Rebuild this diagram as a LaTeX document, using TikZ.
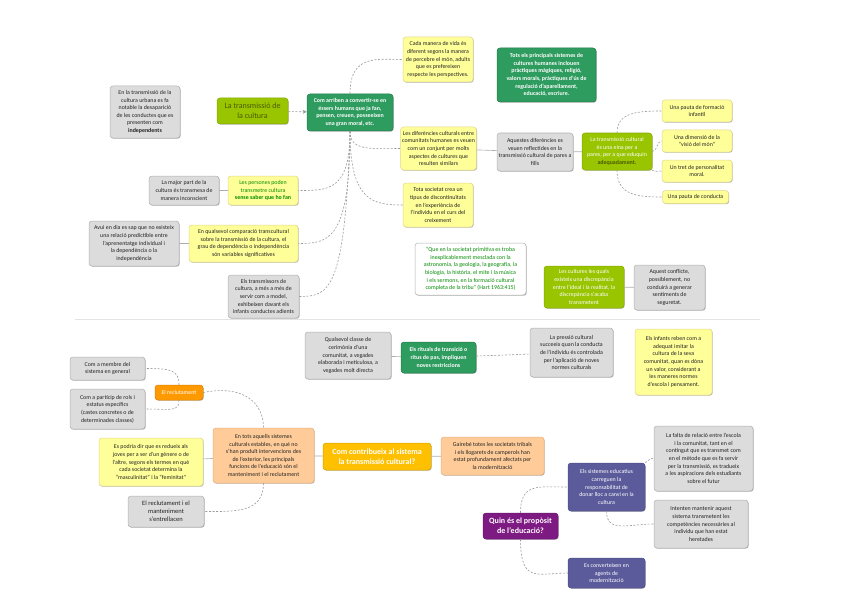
\documentclass[tikz,border=0pt]{standalone}
\usepackage{fontspec}
\setmainfont{Carlito}
\usetikzlibrary{shadows,arrows.meta}
\definecolor{cgray}{HTML}{DCDCDC}
\definecolor{cgrayd}{HTML}{B0B0B0}
\definecolor{cyel}{HTML}{FFFF99}
\definecolor{cyeld}{HTML}{E0D68A}
\definecolor{cgreen}{HTML}{2E9B5F}
\definecolor{clime}{HTML}{99C400}
\definecolor{climed}{HTML}{86AB00}
\definecolor{cpeach}{HTML}{FFCC99}
\definecolor{cpeachd}{HTML}{E8B080}
\definecolor{corange}{HTML}{FF9900}
\definecolor{cgold}{HTML}{FFC000}
\definecolor{cmag}{HTML}{7E1B83}
\definecolor{cpur}{HTML}{5B5B9B}
\definecolor{ctext}{HTML}{222222}
\definecolor{colive}{HTML}{4A5A00}
\definecolor{cgtext}{HTML}{008A00}
\definecolor{cline}{HTML}{999999}
\definecolor{csep}{HTML}{E4E4E4}
\newcommand\mmsmall{\fontsize{5.9}{7.6}\selectfont}
\newcommand\mmbig{\fontsize{8}{10}\selectfont}
\tikzset{
  wh/.style 2 args={minimum width=#1pt, minimum height=#2pt},
  shad/.style={drop shadow={shadow xshift=0.7pt,shadow yshift=-0.7pt,opacity=0.3,fill=black}},
  box/.style={rounded corners=3pt, draw, line width=0.5pt, align=center, inner sep=1.5pt, font=\mmsmall, shad},
  graybox/.style={box, fill=cgray, draw=cgrayd, text=ctext},
  yelbox/.style={box, fill=cyel, draw=cyeld, text=ctext},
  greenbox/.style={box, fill=cgreen, draw=cgreen!80!black, text=white, font=\mmsmall\bfseries},
  limebox/.style={box, fill=clime, draw=climed, text=white},
  peachbox/.style={box, fill=cpeach, draw=cpeachd, text=ctext},
  orangebox/.style={box, fill=corange, draw=corange!85!black, text=white},
  goldbox/.style={box, fill=cgold, draw=cgold!85!black, text=white, font=\mmbig\bfseries},
  magbox/.style={box, fill=cmag, draw=cmag!85!black, text=white, font=\mmbig\bfseries},
  purbox/.style={box, fill=cpur, draw=cpur!85!black, text=white},
  quotebox/.style={box, fill=white, draw=cgrayd, text=cgtext},
  dcon/.style={draw=cline, line width=0.6pt, dash pattern=on 2pt off 1.6pt},
  scon/.style={draw=cline!80, line width=0.6pt},
}
\begin{document}
\begin{tikzpicture}[x=1pt,y=-1pt]
\useasboundingbox (0,0) rectangle (848,599);
\draw[csep, line width=0.8pt] (75,319) -- (760,319);

% ---------- top half ----------
\node[graybox, wh={70}{52}] (g1) at (145,112) {En la transmissió de la\\ cultura urbana es fa\\ notable la desaparició\\ de les conductes que es\\ presenten com\\ \textbf{independents}};
\node[limebox, wh={71}{26}, text=colive, font=\mmbig] (t1) at (252.5,111) {La transmissió de\\ la cultura};
\node[greenbox, wh={86}{37}] (c1) at (350,112.5) {Com arriben a convertir-se en\\ éssers humans que ja fan,\\ pensen, creuen, posseeixen\\ una gran moral, etc.};
\node[yelbox, wh={70}{45}] (y1) at (438,59.5) {Cada manera de vida és\\ diferent segons la manera\\ de percebre el món, adults\\ que es prefereixen\\ respecte les perspectives.};
\node[greenbox, wh={99}{54}] (gb) at (546.5,75) {Tots els principals sistemes de\\ cultures humanes inclouen\\ pràctiques màgiques, religió,\\ valors morals, pràctiques d'ús de\\ regulació d'aparellament,\\ educació, escriure.};
\node[yelbox, wh={71}{43}] (y2) at (438.5,148.5) {Les diferències culturals entre\\ comunitats humanes es veuen\\ com un conjunt per molts\\ aspectes de cultures que\\ resulten similars};
\node[graybox, wh={76}{38}] (g2) at (535,152) {Aquestes diferències es\\ veuen reflectides en la\\ transmissió cultural de pares a\\ fills};
\node[limebox, wh={70}{37}] (l2) at (617,151.5) {La transmissió cultural\\ és una eina per a\\ pares, per a que eduquin\\ \textcolor{colive}{\textbf{adequadament.}}};
\node[yelbox, wh={70}{22}] (y3) at (697,111) {Una pauta de formació\\ infantil};
\node[yelbox, wh={70}{22}] (y4) at (697,141) {Una dimensió de la\\ “visió del món”};
\node[yelbox, wh={70}{22}] (y5) at (697,171) {Un tret de personalitat\\ moral.};
\node[yelbox, wh={66}{13}] (y6) at (695.5,197) {Una pauta de conducta};
\node[graybox, wh={70}{29}] (g3) at (184,190.5) {La major part de la\\ cultura és transmesa de\\ manera inconscient};
\node[yelbox, wh={70}{29}, text=cgtext] (y7) at (263,190.5) {Les persones poden\\ transmetre cultura\\ \textbf{sense saber que ho fan}};
\node[graybox, wh={90}{45}] (g4) at (134,243.5) {Avui en dia es sap que no existeix\\ una relació predictible entre\\ l'aprenentatge individual i\\ la dependència o la\\ independència};
\node[yelbox, wh={109}{37}] (y8) at (243.5,243.5) {En qualsevol comparació transcultural\\ sobre la transmissió de la cultura, el\\ grau de dependència o independència\\ són variables significatives};
\node[graybox, wh={71}{43}] (g5) at (263.5,296.5) {Els transmissors de\\ cultura, a més a més de\\ servir com a model,\\ exhibeixen davant els\\ infants conductes adients};
\node[yelbox, wh={70}{44}] (y9) at (438,205) {Tota societat crea un\\ tipus de discontinuïtats\\ en l'experiència de\\ l'individu en el curs del\\ creixement};
\node[quotebox, wh={111}{52}] (q) at (470.5,269) {“Que en la societat primitiva es troba\\ inexplicablement mesclada con la\\ astronomia, la geologia, la geografia, la\\ biologia, la història, el mite i la música\\ i els sermons, en la formació cultural\\ completa de la tribu” (Hart 1963:415)};
\node[limebox, wh={80}{42}] (l3) at (584,287) {Les cultures les quals\\ existeix una discrepància\\ entre l'ideal i la realitat, la\\ discrepància s'acaba\\ transmetent};
\node[graybox, wh={71}{45}] (g6) at (669.5,287.5) {Aquest conflicte,\\ possiblement, no\\ conduirà a generar\\ sentiments de\\ seguretat.};

% ---------- bottom half ----------
\node[graybox, wh={86}{47}] (g7) at (348,355.5) {Qualsevol classe de\\ cerimònia d'una\\ comunitat, a vegades\\ elaborada i meticulosa, a\\ vegades molt directa};
\node[greenbox, wh={75}{31}] (gr) at (438.5,357.5) {Els rituals de transició o\\ ritus de pas, impliquen\\ noves restriccions};
\node[graybox, wh={83}{49}] (g8) at (571.5,352.5) {La pressió cultural\\ succeeix quan la conducta\\ de l'individu és controlada\\ per l'aplicació de noves\\ normes culturals};
\node[yelbox, wh={77}{66}] (y10) at (673.5,362) {Els infants reben com a\\ adequat imitar la\\ cultura de la seva\\ comunitat, quan es dóna\\ un valor, considerant a\\ les maneres normes\\ d'escola i pensament.};
\node[graybox, wh={75}{23}] (g9) at (107.5,368.5) {Com a membre del\\ sistema en general};
\node[orangebox, wh={48}{15}] (o1) at (179,392.5) {El reclutament};
\node[graybox, wh={75}{40}] (g10) at (107.5,409) {Com a partícip de rols i\\ estatus específics\\ (castes concretes o de\\ determinades classes)};
\node[yelbox, wh={104}{48}] (y11) at (151,462) {Es podria dir que es redueix als\\ joves per a ser d'un gènere o de\\ l'altre, segons els termes en què\\ cada societat determina la\\ “masculinitat” i la “feminitat”};
\node[peachbox, wh={101}{55}] (p1) at (263.5,455.5) {En tots aquells sistemes\\ culturals estables, en què no\\ s'han produït intervencions des\\ de l'exterior, les principals\\ funcions de l'educació són el\\ manteniment i el reclutament};
\node[graybox, wh={76}{31}, font=\fontsize{6.5}{8}\selectfont] (g11) at (166,511.5) {El reclutament i el\\ manteniment\\ s'entrellacen};
\node[goldbox, wh={108}{27}] (co) at (377,456.5) {Com contribueix al sistema\\ la transmissió cultural?};
\node[peachbox, wh={103}{38}] (p2) at (492.5,456) {Gairebé totes les societats tribals\\ i els llogarets de camperols han\\ estat profundament afectats per\\ la modernització};
\node[magbox, wh={75}{26}] (m) at (520.5,526) {Quin és el propòsit\\ de l'educació?};
\node[purbox, wh={77}{48}] (pb1) at (606.5,487) {Els sistemes educatius\\ carreguen la\\ responsabilitat de\\ donar lloc a canvi en la\\ cultura};
\node[graybox, wh={99}{65}] (g12) at (703.5,458.5) {La falta de relació entre l'escola\\ i la comunitat, tant en el\\ contingut que es transmet com\\ en el mètode que es fa servir\\ per la transmissió, es tradueix\\ a les aspiracions dels estudiants\\ sobre el futur};
\node[graybox, wh={94}{48}] (g13) at (701,524) {Intenten mantenir aquest\\ sistema transmetent les\\ competències necessàries al\\ individu que han estat\\ heretades};
\node[purbox, wh={77}{30}] (pb2) at (606.5,573) {Es converteixen en\\ agents de\\ modernització};

% ---------- connectors: top ----------
\draw[dcon, -{Stealth[length=4pt,width=4pt]}] (t1) -- (c1);
\draw[dcon] (c1.north) .. controls +(0,-40) and +(-25,0) .. (y1.west);
\draw[dcon] (c1.south) .. controls +(0,20) and +(-30,0) .. (y2.west);
\draw[dcon] (c1.south) .. controls +(0,70) and +(-30,0) .. (y9.west);
\draw[dcon] (c1.south) .. controls +(0,60) and +(30,0) .. (y7.east);
\draw[dcon] (c1.south) .. controls +(0,110) and +(30,0) .. (y8.east);
\draw[dcon] (c1.south) .. controls +(-5,160) and +(30,0) .. (g5.east);
\draw[scon] (y2) -- (g2);
\draw[scon] (g2) -- (l2);
\draw[dcon] (l2.north) .. controls +(0,-20) and +(-25,0) .. (y3.west);
\draw[dcon] (l2.east) .. controls +(5,0) and +(-5,0) .. (y4.west);
\draw[dcon] (l2.south east) .. controls +(4,2) and +(-5,0) .. (y5.west);
\draw[dcon] (l2.south) .. controls +(0,25) and +(-25,0) .. (y6.west);
\draw[scon] (g3) -- (y7);
\draw[scon] (g4) -- (y8);
\draw[scon] (l3) -- (g6);

% ---------- connectors: bottom ----------
\draw[scon] (g7) -- (gr);
\draw[dcon] (gr) -- (g8);
\draw[dcon] (o1.north) .. controls +(0,-15) and +(25,0) .. (g9.east);
\draw[dcon] (o1.south) .. controls +(0,12) and +(25,0) .. (g10.east);
\draw[dcon] (o1.east) .. controls +(40,-8) and +(0,-25) .. (p1.north);
\draw[scon] (y11) -- (p1);
\draw[scon] (p1) -- (co);
\draw[scon] (co) -- (p2);
\draw[dcon] (p1.south) .. controls +(0,30) and +(30,0) .. (g11.east);
\draw[dcon] (m.north) .. controls +(0,-30) and +(-30,0) .. (pb1.west);
\draw[dcon] (m.south) .. controls +(0,45) and +(-30,0) .. (pb2.west);
\draw[dcon] (pb1.north east) .. controls +(4,-3) and +(-4,0) .. (g12.west);
\draw[dcon] (pb1.south) .. controls +(0,22) and +(-25,0) .. (g13.west);
\end{tikzpicture}
\end{document}
